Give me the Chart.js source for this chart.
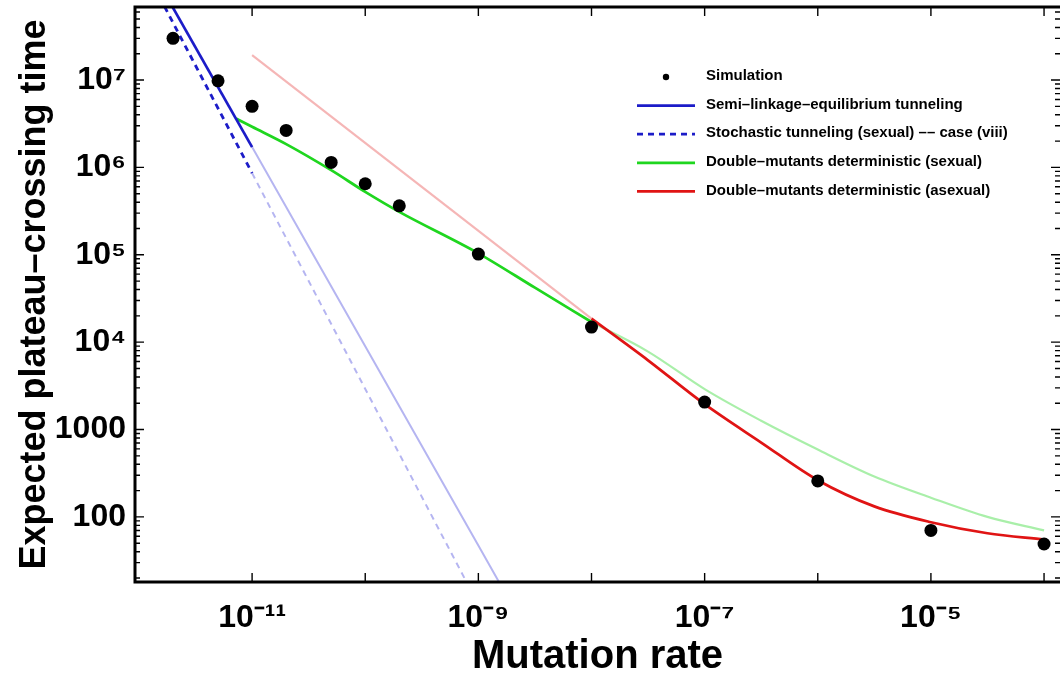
<!DOCTYPE html>
<html><head><meta charset="utf-8">
<script src="https://cdn.jsdelivr.net/npm/chart.js@4.4.1/dist/chart.umd.min.js"></script>
<style>html,body{margin:0;padding:0;background:#fff;overflow:hidden}canvas{display:block}</style>
</head><body>
<canvas id="c" width="1060" height="677"></canvas>
<script>
// ---- data ----
const simulationRate = [2e-12, 5e-12, 1e-11, 2e-11, 5e-11, 1e-10, 2e-10, 1e-9, 1e-8, 1e-7, 1e-6, 1e-5, 1e-4];
const simulationTime = [3.0e7, 9.8e6, 5.0e6, 2.65e6, 1.14e6, 6.5e5, 3.63e5, 1.02e5, 1.49e4, 2.06e3, 258, 70, 49];

const semiRate = [1e-12, 1e-11];
const semiTime = [3.26e8, 1.71e6];
const semiFadedRate = [1e-11, 1e-9, 3e-9];
const semiFadedTime = [1.71e6, 47, 3.8];

const stochRate = [1e-12, 1e-11];
const stochTime = [2.5e8, 8.6e5];
const stochFadedRate = [1e-11, 1e-9, 2e-9];
const stochFadedTime = [8.6e5, 9.9, 1.8];

const sexualRate = [7.2e-12, 1e-11, 2e-11, 5e-11, 1e-10, 2e-10, 1e-9, 3.16e-9, 1e-8];
const sexualTime = [3.63e6, 2.92e6, 1.85e6, 9.3e5, 5.25e5, 3.1e5, 1.04e5, 4.2e4, 1.7e4];
const sexualFadedRate = [1e-8, 3.16e-8, 1e-7, 3.16e-7, 1e-6, 3.16e-6, 1e-5, 3.16e-5, 1e-4];
const sexualFadedTime = [1.7e4, 7.8e3, 2.9e3, 1.26e3, 590, 290, 166, 100, 70];

const asexualRate = [1e-8, 3.16e-8, 1e-7, 3.16e-7, 1e-6, 3.16e-6, 1e-5, 3.16e-5, 1e-4];
const asexualTime = [1.86e4, 6.2e3, 1.95e3, 710, 263, 132, 87, 65, 55];
const asexualFadedRate = [1e-11, 1e-8];
const asexualFadedTime = [1.93e7, 1.86e4];

const yTickValues = [100, 1000, 1e4, 1e5, 1e6, 1e7];
const yTickLabels = ['100', '1000', '10⁴', '10⁵', '10⁶', '10⁷'];
const xTickValues = [1e-11, 1e-9, 1e-7, 1e-5];
const xTickLabels = ['10⁻¹¹', '10⁻⁹', '10⁻⁷', '10⁻⁵'];

const xTitle = 'Mutation rate';
const yTitle = 'Expected plateau–crossing time';

// ---- build ----
const pts = (xs, ys) => xs.map((x, i) => ({x: x, y: ys[i]}));
const FONT = "'Liberation Sans', Arial, sans-serif";

function lineDs(label, xs, ys, color, width, dash, order, legend, smooth) {
  return {
    label: label, data: pts(xs, ys), borderColor: color, backgroundColor: color,
    borderWidth: width, borderDash: dash || [], pointRadius: 0, showLine: true,
    fill: false, order: order, legendEntry: legend,
    cubicInterpolationMode: smooth ? 'monotone' : 'default', tension: 0
  };
}

const datasets = [
  {label: 'Simulation', data: pts(simulationRate, simulationTime), showLine: false,
   pointRadius: 6.5, pointHoverRadius: 6.5, backgroundColor: '#000', borderColor: '#000', borderWidth: 0,
   order: 0, legendEntry: true, isPoint: true},
  lineDs('Semi–linkage–equilibrium tunneling', semiRate, semiTime, '#1c1cc8', 2.7, null, 1, true),
  lineDs('Stochastic tunneling (sexual) –– case (viii)', stochRate, stochTime, '#1c1cc8', 2.8, [6, 5], 1, true),
  lineDs('Double–mutants deterministic (sexual)', sexualRate, sexualTime, '#1fd61f', 2.7, null, 1, true, true),
  lineDs('Double–mutants deterministic (asexual)', asexualRate, asexualTime, '#e01414', 2.7, null, 1, true, true),
  lineDs('semi faded', semiFadedRate, semiFadedTime, 'rgba(90,90,225,0.45)', 2, null, 3, false),
  lineDs('stoch faded', stochFadedRate, stochFadedTime, 'rgba(90,90,225,0.45)', 2, [6, 5], 3, false),
  lineDs('sexual faded', sexualFadedRate, sexualFadedTime, 'rgba(40,215,40,0.4)', 2.2, null, 3, false, true),
  lineDs('asexual faded', asexualFadedRate, asexualFadedTime, 'rgba(230,80,80,0.42)', 2.2, null, 3, false)
];

const framePlugin = {
  id: 'frame',
  afterDraw(chart) {
    const ctx = chart.ctx, a = chart.chartArea;
    const xs = chart.scales.x, ys = chart.scales.y;
    ctx.save();
    ctx.strokeStyle = '#000';
    // ticks
    ctx.lineWidth = 1.4;
    ctx.beginPath();
    for (let e = 1; e <= 7; e++) {
      for (let k = 1; k <= 9; k++) {
        const v = k * Math.pow(10, e);
        const py = ys.getPixelForValue(v);
        if (py < a.top + 1 || py > a.bottom - 1) continue;
        const len = k === 1 ? 9 : 5;
        ctx.moveTo(a.left, py); ctx.lineTo(a.left + len, py);
        ctx.moveTo(a.right, py); ctx.lineTo(a.right - len, py);
      }
    }
    for (let e = -11; e <= -4; e++) {
      const px = xs.getPixelForValue(Math.pow(10, e));
      ctx.moveTo(px, a.bottom); ctx.lineTo(px, a.bottom - 9);
      ctx.moveTo(px, a.top); ctx.lineTo(px, a.top + 9);
    }
    ctx.stroke();
    // frame
    ctx.lineWidth = 3;
    ctx.beginPath();
    ctx.moveTo(a.right + 2, a.top); ctx.lineTo(a.left, a.top);
    ctx.lineTo(a.left, a.bottom); ctx.lineTo(a.right + 2, a.bottom);
    ctx.stroke();
    // legend inside the plot
    const lx0 = 637, lx1 = 695, tx = 706;
    let ly = 76;
    ctx.font = "bold 15px " + FONT;
    ctx.textBaseline = 'middle';
    ctx.fillStyle = '#000';
    chart.data.datasets.forEach(ds => {
      if (!ds.legendEntry) return;
      if (ds.isPoint) {
        ctx.beginPath(); ctx.arc((lx0 + lx1) / 2, ly + 1, 3.2, 0, Math.PI * 2); ctx.fill();
      } else {
        ctx.save();
        ctx.strokeStyle = ds.borderColor; ctx.lineWidth = 2.8;
        ctx.setLineDash(ds.borderDash || []);
        ctx.beginPath(); ctx.moveTo(lx0, ly + 1); ctx.lineTo(lx1, ly + 1); ctx.stroke();
        ctx.restore();
      }
      ctx.fillStyle = '#000';
      ctx.fillText(ds.label, tx, ly);
      ly += 28.6;
    });
    ctx.restore();
  }
};

new Chart(document.getElementById('c'), {
  type: 'scatter',
  data: {datasets: datasets},
  options: {
    responsive: false, animation: false,
    layout: {autoPadding: false, padding: {top: 7, right: 0, left: 0, bottom: 0}},
    plugins: {legend: {display: false}, tooltip: {enabled: false}},
    scales: {
      x: {
        type: 'logarithmic', min: Math.pow(10, -12.035), max: Math.pow(10, -3.859),
        grid: {display: false, drawTicks: false}, border: {display: false},
        afterBuildTicks: s => { s.ticks = xTickValues.map(v => ({value: v})); },
        afterFit: s => { s.height = 95; s.paddingLeft = 0; s.paddingRight = 0; s.paddingTop = 0; s.paddingBottom = 0; },
        ticks: {
          autoSkip: false, maxRotation: 0, padding: 17, color: '#000',
          font: {family: FONT, size: 32, weight: 'bold'},
          callback: (v) => { const i = xTickValues.indexOf(v); return i >= 0 ? xTickLabels[i] : ''; }
        },
        title: {display: true, text: xTitle, color: '#000', padding: {top: 0, bottom: 0},
          font: {family: FONT, size: 40, weight: 'bold', lineHeight: 1.0}}
      },
      y: {
        type: 'logarithmic', min: Math.pow(10, 1.255), max: Math.pow(10, 7.836),
        grid: {display: false, drawTicks: false}, border: {display: false},
        afterBuildTicks: s => { s.ticks = yTickValues.map(v => ({value: v})); },
        afterFit: s => { s.width = 135; s.paddingTop = 0; s.paddingBottom = 0; s.paddingLeft = 0; s.paddingRight = 0; },
        ticks: {
          autoSkip: false, padding: 9, color: '#000',
          font: {family: FONT, size: 32, weight: 'bold'},
          callback: (v) => { const i = yTickValues.indexOf(v); return i >= 0 ? yTickLabels[i] : ''; }
        },
        title: {display: true, text: yTitle, color: '#000', padding: {top: 17, bottom: 0},
          font: {family: FONT, size: 36, weight: 'bold', lineHeight: 1.0}}
      }
    }
  },
  plugins: [framePlugin]
});
</script>
</body></html>
